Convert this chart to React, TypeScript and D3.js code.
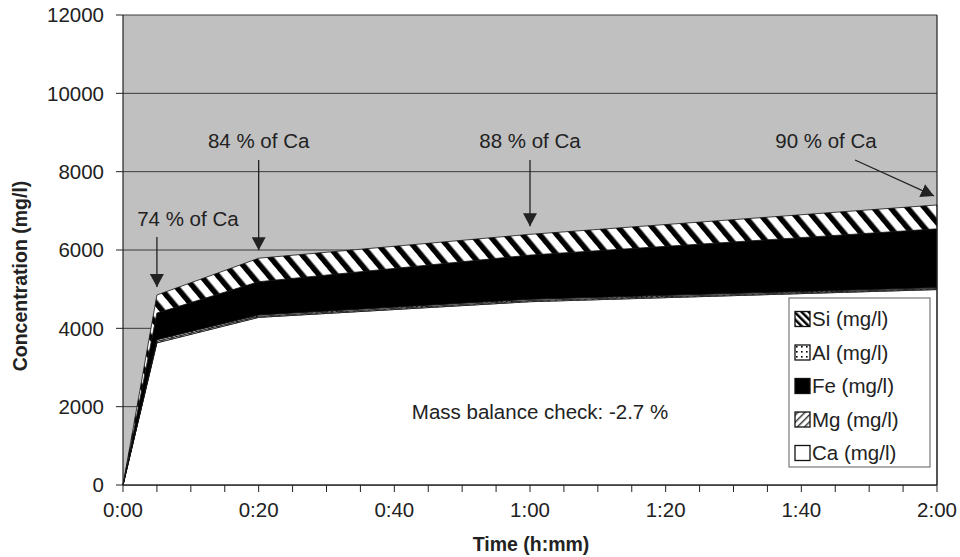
import React from "react";
import * as d3 from "d3";

// ---- data ----
const times = [0, 5, 20, 60, 120]; // minutes
const caValues = [0, 3630, 4280, 4680, 4990];
const mgValues = [0, 40, 30, 30, 25];
const alValues = [0, 40, 30, 30, 25];
const feValues = [0, 680, 850, 1130, 1500];
const siValues = [0, 460, 600, 530, 610];
const seriesKeys = ["Ca", "Mg", "Al", "Fe", "Si"];
const legendLabels = ["Si (mg/l)", "Al (mg/l)", "Fe (mg/l)", "Mg (mg/l)", "Ca (mg/l)"];
const legendKeys = ["Si", "Al", "Fe", "Mg", "Ca"];
const yTicks = [0, 2000, 4000, 6000, 8000, 10000, 12000];
const xLabelTicks = [0, 20, 40, 60, 80, 100, 120];
const xMinorTicks = d3.range(0, 121, 5);
const annotLabels = ["74 % of Ca", "84 % of Ca", "88 % of Ca", "90 % of Ca"];
const annotTimes = [5, 20, 60, 120];

const W = 960;
const H = 557;
const M = { left: 123, right: 937, top: 15, bottom: 485 };

const fmtTime = (m: number) => `${Math.floor(m / 60)}:${String(m % 60).padStart(2, "0")}`;

export default function App() {
  const x = d3.scaleLinear().domain([0, 120]).range([M.left, M.right]);
  const y = d3.scaleLinear().domain([0, 12000]).range([M.bottom, M.top]);

  const rows = times.map((t, i) => ({
    t,
    Ca: caValues[i],
    Mg: mgValues[i],
    Al: alValues[i],
    Fe: feValues[i],
    Si: siValues[i],
  }));
  const stacked = d3.stack<any>().keys(seriesKeys)(rows);
  const area = d3
    .area<any>()
    .x((d) => x(d.data.t))
    .y0((d) => y(d[0]))
    .y1((d) => y(d[1]));

  const fills: Record<string, string> = {
    Ca: "#ffffff",
    Mg: "url(#hatchMg)",
    Al: "url(#dotsAl)",
    Fe: "#000000",
    Si: "url(#hatchSi)",
  };

  const totals = rows.map((r) => r.Ca + r.Mg + r.Al + r.Fe + r.Si);
  const font = "'Liberation Sans', Arial, Helvetica, sans-serif";
  const fs = 20.5;

  return (
    <svg width={W} height={H} style={{ position: "absolute", left: 0, top: 0, background: "#fff" }} fontFamily={font}>
      <defs>
        <pattern id="hatchSi" patternUnits="userSpaceOnUse" width="13" height="13" patternTransform="rotate(-40)">
          <rect width="13" height="13" fill="#fff" />
          <rect width="5.5" height="13" fill="#000" />
        </pattern>
        <pattern id="hatchSiLeg" patternUnits="userSpaceOnUse" width="5" height="5" patternTransform="rotate(-45)">
          <rect width="5" height="5" fill="#fff" />
          <rect width="2.5" height="5" fill="#000" />
        </pattern>
        <pattern id="hatchMg" patternUnits="userSpaceOnUse" width="5" height="5" patternTransform="rotate(45)">
          <rect width="5" height="5" fill="#fff" />
          <rect width="1.5" height="5" fill="#444" />
        </pattern>
        <pattern id="dotsAl" patternUnits="userSpaceOnUse" width="5" height="5">
          <rect width="5" height="5" fill="#fff" />
          <rect x="1" y="1" width="1.6" height="1.6" fill="#000" />
        </pattern>
        <marker id="arrow" viewBox="0 0 13 14" refX="13" refY="7" markerWidth="13" markerHeight="14" markerUnits="userSpaceOnUse" orient="auto">
          <path d="M0,0 L13,7 L0,14 Z" fill="#222" />
        </marker>
      </defs>

      {/* plot background */}
      <rect x={M.left} y={M.top} width={M.right - M.left} height={M.bottom - M.top} fill="#c0c0c0" />

      {/* gridlines */}
      {yTicks.map((v) => (
        <line key={v} x1={M.left} x2={M.right} y1={y(v)} y2={y(v)} stroke="#3a3a3a" strokeWidth={1} />
      ))}

      {/* stacked areas */}
      {stacked.map((s) => (
        <path key={s.key} d={area(s as any) || ""} fill={fills[s.key]} stroke="#111" strokeWidth={0.8} />
      ))}

      {/* frame right */}
      <line x1={M.right} x2={M.right} y1={M.top} y2={M.bottom} stroke="#222" strokeWidth={1.2} />

      {/* y axis */}
      <line x1={M.left} x2={M.left} y1={M.top} y2={M.bottom} stroke="#222" strokeWidth={1.2} />
      {yTicks.map((v) => (
        <g key={v}>
          <line x1={M.left - 7} x2={M.left} y1={y(v)} y2={y(v)} stroke="#222" />
          <text x={M.left - 19} y={y(v)} dy="0.35em" textAnchor="end" fontSize={fs} fill="#222">
            {v}
          </text>
        </g>
      ))}

      {/* x axis */}
      <line x1={M.left} x2={M.right} y1={M.bottom} y2={M.bottom} stroke="#222" strokeWidth={1.2} />
      {xMinorTicks.map((m) => (
        <line key={m} x1={x(m)} x2={x(m)} y1={M.bottom} y2={M.bottom + 7} stroke="#222" />
      ))}
      {xLabelTicks.map((m) => (
        <text key={m} x={x(m)} y={M.bottom + 25} dy="0.35em" textAnchor="middle" fontSize={fs} fill="#222">
          {fmtTime(m)}
        </text>
      ))}

      {/* axis titles */}
      <text x={531} y={551} textAnchor="middle" fontSize={19.5} fontWeight="bold" fill="#222">
        Time (h:mm)
      </text>
      <text transform={`translate(27,${(M.top + M.bottom) / 2 + 26}) rotate(-90)`} textAnchor="middle" fontSize={19.5} fontWeight="bold" fill="#222">
        Concentration (mg/l)
      </text>

      {/* annotations */}
      {annotLabels.map((lab, i) => {
        const t = annotTimes[i];
        const top = y(totals[times.indexOf(t)]);
        const isFirst = i === 0;
        const isLast = i === annotLabels.length - 1;
        const tx = isFirst ? x(t) + 31 : isLast ? x(t) - 111 : x(t);
        const ty = isFirst ? 219 : 141;
        const sx = isLast ? x(t) - 82 : x(t);
        const sy = isFirst ? 237 : 160;
        const ex = isLast ? x(t) - 3 : x(t);
        const ey = isLast ? top - 9 : top - 8;
        return (
          <g key={lab}>
            <text x={tx} y={ty} dy="0.35em" textAnchor="middle" fontSize={fs} fill="#222">
              {lab}
            </text>
            <line x1={sx} y1={sy} x2={ex} y2={ey} stroke="#222" strokeWidth={1.3} markerEnd="url(#arrow)" />
          </g>
        );
      })}

      {/* mass balance */}
      <text x={540} y={412} dy="0.35em" textAnchor="middle" fontSize={fs} fill="#222">
        Mass balance check: -2.7 %
      </text>

      {/* legend */}
      <g>
        <rect x={789} y={298} width={141} height={169} fill="#fff" stroke="#777" strokeWidth={1.2} />
        {legendKeys.map((k, i) => {
          const cy = 319 + i * 33.5;
          const f = k === "Si" ? "url(#hatchSiLeg)" : fills[k];
          return (
            <g key={k}>
              <rect x={795} y={cy - 7.5} width={15} height={15} fill={f} stroke="#111" strokeWidth={1.3} />
              <text x={812} y={cy} dy="0.35em" fontSize={fs} fill="#222">
                {legendLabels[i]}
              </text>
            </g>
          );
        })}
      </g>
    </svg>
  );
}
